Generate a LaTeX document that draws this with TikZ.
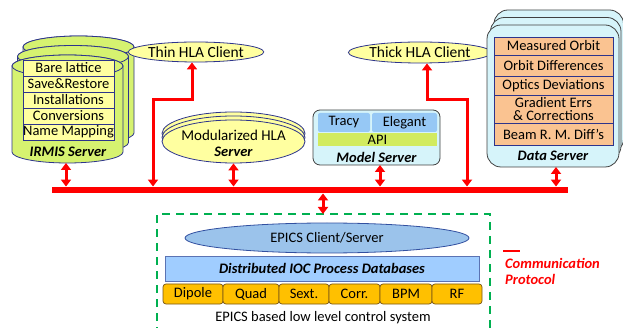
\documentclass[tikz,border=0pt]{standalone}
\usepackage{fontspec}
\setmainfont{Carlito}
\usetikzlibrary{shapes.geometric,arrows.meta}

\definecolor{navy}{RGB}{45,52,140}
\definecolor{cylgreen}{RGB}{214,242,112}
\definecolor{paleyellow}{RGB}{255,255,160}
\definecolor{srvcyan}{RGB}{214,244,250}
\definecolor{toolblue}{RGB}{150,200,245}
\definecolor{apigreen}{RGB}{210,235,95}
\definecolor{peach}{RGB}{250,195,145}
\definecolor{epicsblue}{RGB}{155,195,235}
\definecolor{epicsline}{RGB}{50,80,160}
\definecolor{dbblue}{RGB}{160,205,255}
\definecolor{devorange}{RGB}{255,192,0}
\definecolor{devline}{RGB}{120,85,20}
\definecolor{dashgreen}{RGB}{0,176,80}
\definecolor{commred}{RGB}{255,0,0}

\tikzset{
  txt/.style={inner sep=0pt, font=\fontsize{14.5}{15}\selectfont},
  bi/.style={txt, font=\fontsize{14.5}{15}\selectfont\bfseries\itshape},
  cylfill/.style={fill=cylgreen, draw=navy, line width=0.8pt},
  row/.style={txt, draw=navy, fill=paleyellow, line width=0.7pt, minimum width=91pt, minimum height=16pt},
  drow/.style={txt, draw=navy, fill=peach, line width=0.7pt, minimum width=119pt},
  client/.style={txt, ellipse, draw=navy, fill=paleyellow, line width=0.8pt, font=\fontsize{15.5}{16}\selectfont},
  srvbox/.style={draw=black!75, fill=srvcyan, line width=0.8pt, rounded corners=14pt},
  tool/.style={txt, fill=toolblue, rounded corners=2pt, minimum height=19pt},
  device/.style={txt, draw=devline, fill=devorange, line width=0.7pt, rounded corners=3pt, minimum height=20pt},
  comm/.style={draw=commred, line width=3pt, {Triangle[width=10pt,length=7pt]}-{Triangle[width=10pt,length=7pt]}},
  pics/irmiscyl/.style={code={
    \path[cylfill] (-55.5,0) -- (-55.5,86)
      arc[start angle=180, end angle=0, x radius=55.5, y radius=11]
      -- (55.5,0)
      arc[start angle=0, end angle=-180, x radius=55.5, y radius=11] -- cycle;
    \path[cylfill] (0,0) ellipse[x radius=55.5, y radius=11];
  }}
}

\begin{document}
\begin{tikzpicture}[x=1pt, y=-1pt]
\useasboundingbox (0,0) rectangle (623,328);

% ---------- IRMIS server: three stacked cylinders ----------
\pic at (78.5,47) {irmiscyl};
\pic at (73,56.5) {irmiscyl};
\pic at (67.5,66) {irmiscyl};
\node[row] (bare) at (68.5,68) {Bare lattice};
\node[row] (save) at (68.5,84) {Save\&Restore};
\node[row] (inst) at (68.5,100) {Installations};
\node[row] (conv) at (68.5,116) {Conversions};
\node[row] (name) at (68.5,132) {Name Mapping};
\node[bi] (irmislbl) at (68,152) {IRMIS Server};
\coordinate (irmisbot) at (66,163);

% ---------- HLA clients ----------
\node[client, minimum width=114pt, minimum height=20pt] (thin) at (196,52) {Thin HLA Client};
\node[client, minimum width=120pt, minimum height=21pt] (thick) at (420,52.5) {Thick HLA Client};

% ---------- Modularized HLA server: stacked discs ----------
\node[client, minimum width=143pt, minimum height=43pt] (modb) at (233.5,133.5) {};
\node[client, minimum width=143pt, minimum height=43pt] (modm) at (233.5,137.5) {};
\node[client, minimum width=143pt, minimum height=43pt] (mod) at (233.5,141.5) {};
\node[txt, font=\fontsize{15}{16}\selectfont] (modlbl) at (233.5,135) {Modularized HLA};
\node[bi] (modsrv) at (233.5,151.5) {Server};

% ---------- Model server ----------
\node[srvbox, rounded corners=7pt, minimum width=127pt, minimum height=55pt] (model) at (376.5,137.5) {};
\node[tool, minimum width=52pt] (tracy) at (344,122.5) {Tracy};
\node[tool, minimum width=65pt] (elegant) at (404.5,122.5) {Elegant};
\node[txt, fill=apigreen, minimum width=119pt, minimum height=13pt] (api) at (377.5,139.5) {API};
\node[bi] (modelsrv) at (376.5,157) {Model Server};
\coordinate (modelbot) at (380,165);

% ---------- Data server: stacked rounded boxes ----------
\draw[srvbox] (494,10) rectangle (623.5,153);
\draw[srvbox] (490.5,17.5) rectangle (621,160);
\node[srvbox, minimum width=132pt, minimum height=142pt] (data) at (553,96) {};
\node[drow, minimum height=18pt] (meas) at (553.5,46) {Measured Orbit};
\node[drow, minimum height=21pt] (odiff) at (553.5,65.5) {Orbit Differences};
\node[drow, minimum height=19pt] (optic) at (553.5,85.5) {Optics Deviations};
\node[drow, minimum height=28pt, align=center, font=\fontsize{14.5}{13}\selectfont] (grad) at (553.5,109) {Gradient Errs\\\& Corrections};
\node[drow, minimum height=22pt] (beam) at (553.5,134) {Beam R.\ M.\ Diff’s};
\node[bi] (datalbl) at (553,156) {Data Server};
\coordinate (databot) at (556,167);

% ---------- Communication bus ----------
\node[fill=commred, inner sep=0pt, minimum width=516pt, minimum height=6.5pt] (bus) at (310,190) {};

% bus links
\draw[comm] (irmisbot) -- (irmisbot |- bus.north);
\draw[comm] (mod.south) -- (mod.south |- bus.north);
\draw[comm] (modelbot) -- (modelbot |- bus.north);
\draw[comm] (databot) -- (databot |- bus.north);
\coordinate (thinup) at (192,100);
\coordinate (thindn) at (153,100);
\draw[comm] (thinup |- thin.south) -- (thinup) -- (thindn) -- (thindn |- bus.north);
\coordinate (thickup) at (427,100);
\coordinate (thickdn) at (467,100);
\draw[comm] (thickup |- thick.south) -- (thickup) -- (thickdn) -- (thickdn |- bus.north);

% ---------- EPICS low level control system ----------
\coordinate (epicstop) at (323,214);
\draw[dashgreen, line width=2.5pt, dash pattern=on 8pt off 6pt] (157,335) -- (157,214) -- (490,214) -- (490,335);
\draw[comm] (epicstop |- bus.south) -- (epicstop);
\node[txt, ellipse, draw=epicsline, fill=epicsblue, line width=0.8pt, minimum width=284pt, minimum height=30pt] (ca) at (327,238) {EPICS Client/Server};
\node[bi, draw=epicsline!80, fill=dbblue, line width=0.8pt, minimum width=314pt, minimum height=25pt] (ioc) at (322,268.5) {Distributed IOC Process Databases};
\node[device, minimum width=60pt] (dip) at (193,294) {Dipole};
\node[device, minimum width=56pt] (quad) at (251,294) {Quad};
\node[device, minimum width=50pt] (sext) at (304,294) {Sext.};
\node[device, minimum width=51pt] (corr) at (354.5,294) {Corr.};
\node[device, minimum width=52pt] (bpm) at (406,294) {BPM};
\node[device, minimum width=50pt] (rf) at (457,294) {RF};
\node[txt] (lowlvl) at (323,318) {EPICS based low level control system};

% ---------- Legend ----------
\coordinate (lg1) at (503,251);
\coordinate (lg2) at (520,251);
\draw[commred, line width=2.5pt] (lg1) -- (lg2);
\node[bi, text=commred, anchor=west] (lgcomm) at (505,263) {Communication};
\node[bi, text=commred, anchor=west] (lgprot) at (505,279.5) {Protocol};
\end{tikzpicture}
\end{document}
